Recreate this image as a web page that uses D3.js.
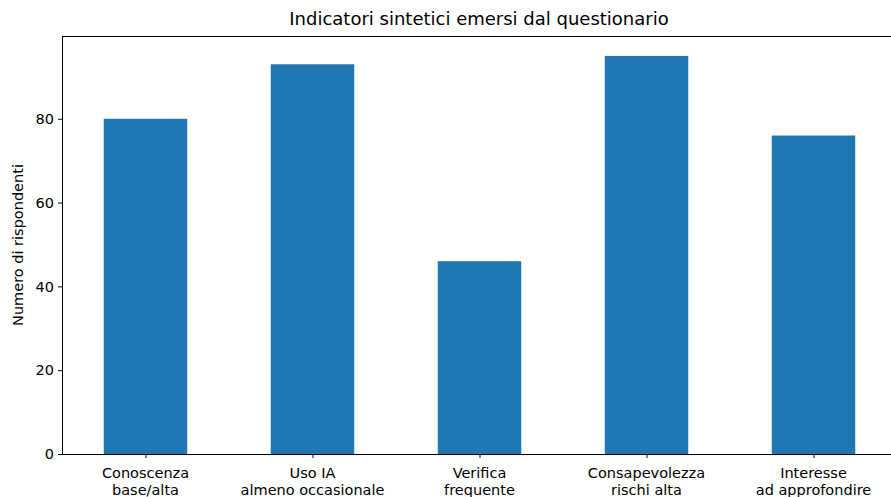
<!DOCTYPE html>
<html>
<head>
<meta charset="utf-8">
<script src="https://cdn.jsdelivr.net/npm/d3@7"></script>
<style>
  body { margin: 0; background: #fff; }
  svg { display: block; font-family: "DejaVu Sans", sans-serif; }
</style>
</head>
<body>
<div id="chart"></div>
<script>
var categories = [
  ["Conoscenza", "base/alta"],
  ["Uso IA", "almeno occasionale"],
  ["Verifica", "frequente"],
  ["Consapevolezza", "rischi alta"],
  ["Interesse", "ad approfondire"]
];
var values = [80, 93, 46, 95, 76];
var yTicks = [0, 20, 40, 60, 80];

var W = 891, H = 497;
var margin = {top: 36, left: 62, bottom: 43};
var plotH = H - margin.top - margin.bottom;
var fs = "14.5px";

var svg = d3.select("#chart").append("svg")
  .attr("width", W).attr("height", H);

// x: linear over index, like matplotlib's [-0.5, 4.5]
var xScale = d3.scaleLinear()
  .domain([-0.5, categories.length - 0.5])
  .range([margin.left, margin.left + 167 * categories.length]);

var yScale = d3.scaleLinear()
  .domain([0, d3.max(values) * 1.05])
  .range([margin.top + plotH, margin.top]);

var barW = xScale(0.5) - xScale(0);

// bars
svg.append("g").selectAll("rect")
  .data(values)
  .enter()
  .append("rect")
  .attr("x", (d, i) => xScale(i) - barW / 2)
  .attr("y", d => yScale(d))
  .attr("width", barW)
  .attr("height", d => yScale(0) - yScale(d))
  .style("fill", "#1f77b4");

// y axis
var yAxis = svg.append("g")
  .attr("transform", "translate(" + margin.left + ",0)")
  .call(d3.axisLeft(yScale).tickValues(yTicks).tickSize(4).tickPadding(4));
yAxis.select(".domain").remove();
yAxis.selectAll("text").style("font-size", fs).attr("fill", "#000")
  .style("font-family", "DejaVu Sans");
yAxis.selectAll("line").attr("stroke", "#000");

// x axis
var xAxis = svg.append("g")
  .attr("transform", "translate(0," + yScale(0) + ")")
  .call(d3.axisBottom(xScale).tickValues(d3.range(categories.length)).tickSize(4).tickFormat(""));
xAxis.select(".domain").remove();
xAxis.selectAll("line").attr("stroke", "#000");

svg.append("g").selectAll("text")
  .data(categories)
  .enter()
  .append("text")
  .attr("x", (d, i) => xScale(i))
  .attr("y", yScale(0) + 24)
  .attr("text-anchor", "middle")
  .style("font-size", fs)
  .style("fill", "#000")
  .selectAll("tspan")
  .data(d => d)
  .enter()
  .append("tspan")
  .attr("x", function() { return d3.select(this.parentNode).attr("x"); })
  .attr("dy", (d, i) => i === 0 ? 0 : 16.5)
  .text(d => d);

// spines
var x0 = margin.left, x1 = xScale(categories.length - 0.5);
var spines = svg.append("g").attr("stroke", "#000").attr("stroke-width", 1)
  .attr("shape-rendering", "crispEdges");
spines.append("line").attr("x1", x0).attr("x2", x0).attr("y1", yScale.range()[1]).attr("y2", yScale(0));
spines.append("line").attr("x1", x0).attr("x2", x1).attr("y1", yScale(0)).attr("y2", yScale(0));
spines.append("line").attr("x1", x0).attr("x2", x1).attr("y1", yScale.range()[1]).attr("y2", yScale.range()[1]);

// title
svg.append("text")
  .attr("x", 479)
  .attr("y", 25)
  .attr("text-anchor", "middle")
  .style("font-size", "18px")
  .text("Indicatori sintetici emersi dal questionario");

// y label
svg.append("text")
  .attr("transform", "translate(23," + (margin.top + plotH / 2) + ") rotate(-90)")
  .attr("text-anchor", "middle")
  .style("font-size", fs)
  .text("Numero di rispondenti");
</script>
</body>
</html>
